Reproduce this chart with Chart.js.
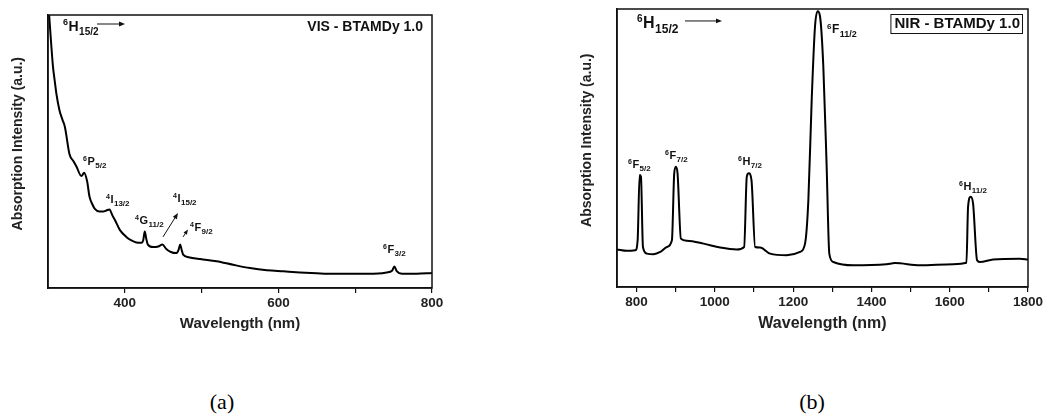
<!DOCTYPE html>
<html><head><meta charset="utf-8">
<script src="https://cdn.jsdelivr.net/npm/chart.js@4"></script>
<style>
body{margin:0;background:#fff;}
#wrap{position:relative;width:1063px;height:419px;overflow:hidden;background:#fff;}
canvas{position:absolute;top:0;}
.cap{position:absolute;font-family:'Liberation Serif','Times New Roman',serif;font-size:22px;color:#000;transform:translate(-50%,-50%);white-space:nowrap;}
</style></head><body>
<div id="wrap">
<canvas id="ca" width="460" height="340" style="left:0px"></canvas>
<canvas id="cb" width="503" height="340" style="left:560px"></canvas>
<div class="cap" style="left:222px;top:402px">(a)</div>
<div class="cap" style="left:812px;top:402px">(b)</div>
</div>
<script>
// ---- VIS spectrum (a) ----
const visWavelength = [301.5,304,306.5,308.7,311,315,319,322,328,333,337,343.5,347,351,354,358,361,367,372,376,380,384,387,393.5,402,408,415,422,424,426,428,430,437,443.5,449,454,460,467,470,472,474,476,483,498,519.5,541,563,585,606.5,628,650,672,695,715,730,741,748,751,754,761,780,800];
const visAbsorbance = [100,90,81,76,71,65,61.5,59,49,46.5,44.5,41,42.2,39,33.5,30.5,29,28,28,28.4,28.8,26.5,25,21.3,18.7,17.5,16.7,16.6,17.5,20.7,18,15.9,15,15.2,15.9,14.3,13.2,12.8,14,15.9,14,12.2,11.3,10.6,9.8,8.5,7.3,6.5,6.1,5.7,5.4,5.2,5.2,5.2,5.3,5.7,6.3,7.9,6.2,5.2,5.2,5.5];
const visTicks = [400,500,600,700,800];
const visTickLabels = ['400','','600','','800'];

// ---- NIR spectrum (b) ----
const nirWavelength = [750,775.5,796.8,802.7,807.8,811.2,816.3,826.5,843.5,860.5,877.5,890.3,896.2,900.5,904.7,913.2,928.5,971.1,1013.6,1056.1,1074.8,1081.6,1086.7,1093.5,1102.9,1115.6,1141.1,1183.6,1217.6,1230.4,1238.9,1247.4,1255.9,1262.7,1268.6,1277.1,1285.6,1292.4,1302.6,1353.6,1438.7,1460,1523.7,1608.7,1642.7,1646.9,1653.7,1659.7,1669.9,1676.7,1710.7,1778.7,1800];
const nirAbsorbance = [13.5,13.0,13.2,16.8,40.3,39.7,14.4,12.0,11.8,12.6,14.4,16.8,40.9,43.3,40.9,17.4,16.6,15.6,14.2,13.5,14.4,39.7,40.9,38.5,14.4,14.2,12.0,11.4,12.6,15.6,31.3,67.3,93.8,99.2,97.4,79.3,43.3,12.0,9.0,7.8,8.2,8.6,7.8,8.2,8.7,28.8,32.5,30.0,9.6,9.0,9.9,10.2,9.9];
const nirTicks = [800,900,1000,1100,1200,1300,1400,1500,1600,1700,1800];
const nirTickLabels = ['800','','1000','','1200','','1400','','1600','','1800'];

const FONT = '"Liberation Sans", Arial, sans-serif';
Chart.defaults.font.family = FONT;
Chart.defaults.color = '#111';

const specPlugin = {
  id: 'specLabels',
  afterDatasetsDraw(chart, args, opts) {
    const {ctx, chartArea: a, scales: {x, y}} = chart;
    ctx.save();
    // frame
    ctx.strokeStyle = '#111'; ctx.lineWidth = 1.5;
    ctx.strokeRect(a.left, a.top, a.right - a.left, a.bottom - a.top);
    ctx.fillStyle = '#111'; ctx.textAlign = 'left'; ctx.textBaseline = 'middle';
    (opts.terms || []).forEach(t => {
      const px = x.getPixelForValue(t.x), py = y.getPixelForValue(t.y);
      const m = t.size, s = Math.round(m * 0.64), b = Math.round(m * 0.72);
      ctx.font = `bold ${s}px ${FONT}`;
      ctx.fillText(t.sup, px, py - m * 0.3);
      let w = ctx.measureText(t.sup).width + 0.5;
      ctx.font = `bold ${m}px ${FONT}`;
      ctx.fillText(t.main, px + w, py);
      w += ctx.measureText(t.main).width + 0.5;
      ctx.font = `bold ${b}px ${FONT}`;
      ctx.fillText(t.sub, px + w, py + m * 0.38);
    });
    (opts.arrows || []).forEach(ar => {
      const x1 = x.getPixelForValue(ar.x1), y1 = y.getPixelForValue(ar.y1);
      const x2 = x.getPixelForValue(ar.x2), y2 = y.getPixelForValue(ar.y2);
      const ang = Math.atan2(y2 - y1, x2 - x1), h = ar.head || 6;
      ctx.strokeStyle = '#111'; ctx.lineWidth = 1;
      ctx.beginPath(); ctx.moveTo(x1, y1); ctx.lineTo(x2 - Math.cos(ang) * h * 0.8, y2 - Math.sin(ang) * h * 0.8); ctx.stroke();
      ctx.beginPath();
      ctx.moveTo(x2, y2);
      ctx.lineTo(x2 - h * Math.cos(ang) + h * 0.4 * Math.sin(ang), y2 - h * Math.sin(ang) - h * 0.4 * Math.cos(ang));
      ctx.lineTo(x2 - h * Math.cos(ang) - h * 0.4 * Math.sin(ang), y2 - h * Math.sin(ang) + h * 0.4 * Math.cos(ang));
      ctx.closePath(); ctx.fill();
    });
    if (opts.title) {
      const t = opts.title;
      const px = x.getPixelForValue(t.x), py = y.getPixelForValue(t.y);
      ctx.font = `bold ${t.size}px ${FONT}`;
      ctx.textAlign = 'right';
      ctx.fillText(t.text, px, py);
      if (t.box) {
        const w = ctx.measureText(t.text).width;
        ctx.lineWidth = 1;
        ctx.strokeRect(px - w - 3.5, py - 9.5, w + 6, 19);
      }
    }
    ctx.restore();
  }
};

function makeChart(id, wl, ab, xmin, xmax, ticks, labels, geom, plug) {
  return new Chart(document.getElementById(id), {
    type: 'line',
    data: { datasets: [{
      data: wl.map((w, i) => ({x: w, y: ab[i]})),
      borderColor: '#000', borderWidth: 2, pointRadius: 0,
      cubicInterpolationMode: 'monotone', fill: false
    }]},
    options: {
      responsive: false, animation: false, devicePixelRatio: 1,
      layout: { padding: { left: 0, top: geom.top, right: geom.right, bottom: 0 } },
      plugins: { legend: { display: false }, tooltip: { enabled: false }, specLabels: plug },
      scales: {
        x: {
          type: 'linear', min: xmin, max: xmax,
          afterBuildTicks: s => { s.ticks = ticks.map(v => ({value: v})); },
          afterFit: s => { s.height = geom.xh; },
          grid: { display: true, drawOnChartArea: false, drawTicks: true, tickLength: 5, color: '#111', lineWidth: 1.2 },
          border: { display: true, color: '#111', width: 1.5 },
          ticks: { callback: (v, i) => labels[i], font: { size: 13.5, weight: 'bold' }, color: '#222', padding: 2, maxRotation: 0, autoSkip: false },
          title: { display: true, text: 'Wavelength (nm)', font: { size: geom.xt, weight: 'bold' }, color: '#222', padding: { top: 0, bottom: geom.xtp } }
        },
        y: {
          type: 'linear', min: 0, max: 100,
          afterFit: s => { s.width = geom.yw; },
          grid: { display: false },
          border: { display: true, color: '#111', width: 1.5 },
          ticks: { display: false },
          title: { display: true, text: '    Absorption Intensity (a.u.)', font: { size: 14, weight: 'bold' }, color: '#222', padding: { top: geom.ytp, bottom: 0 } }
        }
      }
    },
    plugins: [specPlugin]
  });
}

makeChart('ca', visWavelength, visAbsorbance, 300, 800, visTicks, visTickLabels,
  { top: 15, right: 28, xh: 52, yw: 48, xt: 15, xtp: 7, ytp: 9.6 },
  {
    terms: [
      {x: 319.5, y: 95.6, sup: '6', main: 'H', sub: '15/2', size: 14},
      {x: 345.6, y: 46.2, sup: '6', main: 'P', sub: '5/2', size: 11},
      {x: 375.5, y: 32.2, sup: '4', main: 'I', sub: '13/2', size: 11},
      {x: 413.3, y: 24.5, sup: '4', main: 'G', sub: '11/2', size: 11},
      {x: 462.8, y: 32.6, sup: '4', main: 'I', sub: '15/2', size: 11},
      {x: 484.9, y: 22.0, sup: '4', main: 'F', sub: '9/2', size: 11},
      {x: 736.2, y: 13.9, sup: '6', main: 'F', sub: '3/2', size: 11}
    ],
    arrows: [
      {x1: 363.8, y1: 96.7, x2: 400.3, y2: 96.7, head: 6},
      {x1: 449.7, y1: 18.7, x2: 469.3, y2: 27.5, head: 6},
      {x1: 475.8, y1: 18.7, x2: 482.3, y2: 21.4, head: 5}
    ],
    title: {x: 788.3, y: 95.6, text: 'VIS - BTAMDy 1.0', size: 14, box: false}
  });

makeChart('cb', nirWavelength, nirAbsorbance, 750, 1800, nirTicks, nirTickLabels,
  { top: 9, right: 35, xh: 53, yw: 57, xt: 16, xtp: 6.4, ytp: 18.6 },
  {
    terms: [
      {x: 801, y: 94.6, sup: '6', main: 'H', sub: '15/2', size: 16},
      {x: 1286.5, y: 92.4, sup: '6', main: 'F', sub: '11/2', size: 12},
      {x: 778.1, y: 43.9, sup: '6', main: 'F', sub: '5/2', size: 11},
      {x: 872.6, y: 47.1, sup: '6', main: 'F', sub: '7/2', size: 11},
      {x: 1059.1, y: 45.0, sup: '6', main: 'H', sub: '7/2', size: 11},
      {x: 1623.7, y: 36.0, sup: '6', main: 'H', sub: '11/2', size: 11}
    ],
    arrows: [
      {x1: 923.7, y1: 95.7, x2: 1018.2, y2: 95.7, head: 6}
    ],
    title: {x: 1779.5, y: 94.6, text: 'NIR - BTAMDy 1.0', size: 15, box: true}
  });
</script>
</body></html>
